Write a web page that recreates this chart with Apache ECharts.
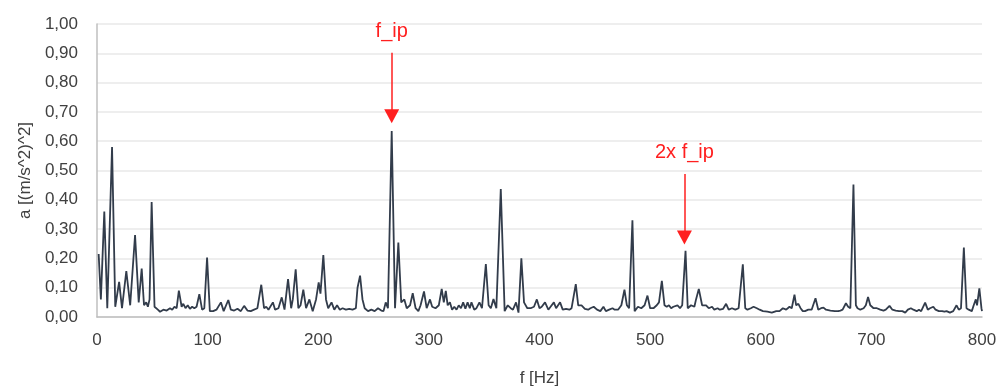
<!DOCTYPE html>
<html>
<head>
<meta charset="utf-8">
<script src="https://cdn.jsdelivr.net/npm/echarts@6/dist/echarts.min.js"></script>
<style>
html,body{margin:0;padding:0;background:#fff;}
#chart{width:1000px;height:392px;}
</style>
</head>
<body>
<div id="chart"></div>
<script>
var freqs = [1.5,3.5,6.6,9.3,13.6,16.5,20,22.6,26.5,30,34.4,37.7,40.4,42.5,44.5,46,47.5,49.4,52,55,57,60,63,66,68,70,72,74,76.5,78,80,82,84,86,88,90,92.5,95,97,99.5,102,105,108,112,114.5,118.7,121,124,127,130,133,136,139,142,145,148.5,151,153,155,159,161,164,167,169.5,172.7,175.5,177,179.6,182,184,186.5,189,192,195,198,200.4,202,204.6,207,209,212,214.5,217,219.5,222,225,228,231,234,235.5,237.8,240,242,245,248,251,254,257,259,261,263,266.4,269.4,272.4,275,277.8,280,283,285.4,288,290.5,292.5,295.6,298,301,303,306,309,311.6,313.5,315.3,317,319,321,323,325,327,329,331,333,335,337,338.5,341,343,345.7,348,351.5,354,356,358.4,361,362.5,365,368.5,371.3,374,376,378.8,381,383.6,386,389,392,395,397.6,400,402,405,408,410,413,415,418.6,421,424,427,429,432.8,435,438,441,444,446,449,452,455,457.8,460,463,466,468,471,474,476.8,479,481,484,486,489,492,495,497.6,500,503,506,508,510.6,513,515,517,519,521,524.7,527,529,532,534,537,540,541.5,544,547,550.6,553,556,558,561,563,566,568.7,571,574,577,580,583.8,586,588,591,593.5,596.5,599,602,606,610,614,617,620,623,626,628,630.5,632,634,636,638,640,643,646,649.5,652,654.5,656.7,659,663,667,670,672,674,677,679,681,683.8,686,687.5,690,693,695,697,699,702,705,708,711,713,716.4,719,722,725,728,730.6,733,735.7,738,741,743,745,748.6,751,753,756,758,761,764,766,768,771,774,777,779,781,783.6,786,788,790.8,792.5,794.4,795.5,797.6,799.5,800];
var amps = [0.215,0.06,0.36,0.03,0.58,0.035,0.12,0.03,0.157,0.04,0.28,0.05,0.165,0.04,0.05,0.035,0.06,0.392,0.035,0.025,0.018,0.025,0.022,0.03,0.025,0.035,0.03,0.09,0.035,0.045,0.03,0.04,0.028,0.035,0.03,0.035,0.078,0.025,0.03,0.203,0.02,0.02,0.025,0.05,0.02,0.058,0.025,0.022,0.028,0.02,0.038,0.022,0.02,0.025,0.03,0.11,0.03,0.035,0.025,0.05,0.025,0.03,0.067,0.025,0.129,0.03,0.06,0.163,0.03,0.04,0.093,0.03,0.06,0.02,0.06,0.118,0.08,0.211,0.06,0.03,0.05,0.025,0.04,0.025,0.03,0.025,0.028,0.025,0.03,0.1,0.141,0.06,0.03,0.02,0.025,0.02,0.03,0.022,0.02,0.05,0.03,0.635,0.03,0.254,0.05,0.06,0.03,0.04,0.081,0.03,0.02,0.04,0.087,0.03,0.06,0.035,0.03,0.04,0.096,0.05,0.089,0.04,0.05,0.025,0.035,0.025,0.04,0.03,0.05,0.028,0.05,0.03,0.05,0.025,0.03,0.05,0.03,0.181,0.04,0.03,0.061,0.03,0.03,0.437,0.02,0.04,0.03,0.025,0.05,0.015,0.2,0.05,0.03,0.03,0.035,0.06,0.03,0.035,0.05,0.025,0.035,0.05,0.03,0.05,0.025,0.028,0.025,0.03,0.112,0.04,0.04,0.028,0.025,0.03,0.035,0.025,0.02,0.035,0.02,0.025,0.03,0.025,0.025,0.04,0.093,0.04,0.03,0.33,0.02,0.035,0.03,0.04,0.073,0.03,0.03,0.04,0.05,0.123,0.04,0.035,0.04,0.03,0.035,0.04,0.03,0.04,0.226,0.03,0.04,0.035,0.06,0.096,0.04,0.04,0.03,0.035,0.025,0.03,0.025,0.028,0.045,0.025,0.03,0.025,0.03,0.18,0.03,0.025,0.03,0.035,0.03,0.025,0.02,0.018,0.015,0.02,0.02,0.03,0.025,0.035,0.03,0.076,0.04,0.045,0.03,0.02,0.02,0.025,0.025,0.064,0.025,0.03,0.032,0.025,0.022,0.02,0.02,0.022,0.025,0.047,0.035,0.03,0.452,0.04,0.03,0.025,0.03,0.04,0.068,0.04,0.03,0.03,0.025,0.022,0.025,0.038,0.025,0.022,0.02,0.02,0.015,0.025,0.03,0.025,0.02,0.025,0.02,0.049,0.025,0.03,0.035,0.025,0.02,0.02,0.018,0.02,0.015,0.02,0.04,0.025,0.03,0.237,0.03,0.025,0.02,0.04,0.06,0.04,0.098,0.03,0.02];

var xTicks = [0,100,200,300,400,500,600,700,800];
var yTicks = [0,0.1,0.2,0.3,0.4,0.5,0.6,0.7,0.8,0.9,1.0];

// annotations: frequency, label, label height, arrow start, arrow end
var annoLabels = ['f_ip', '2x f_ip'];
var annoFreqs = [266.4, 531];
var annoTextY = [0.976, 0.563];
var annoArrowFrom = [0.902, 0.488];
var annoArrowTo = [0.685, 0.271];

var FONT = 'Liberation Sans, Arial, sans-serif';
var chart = echarts.init(document.getElementById('chart'), null, {renderer:'canvas'});

var seriesData = freqs.map(function(f,i){ return [f, amps[i]]; });

var markLineData = annoFreqs.map(function(f,i){
  return [{coord:[f, annoArrowFrom[i]]},{coord:[f, annoArrowTo[i]]}];
});
var markPointData = annoFreqs.map(function(f,i){
  return {coord:[f, annoTextY[i]], value: annoLabels[i]};
});

chart.setOption({
  animation:false,
  backgroundColor:'#ffffff',
  grid:{left:97, right:18, top:24, bottom:73, containLabel:false},
  xAxis:{
    type:'value', min:xTicks[0], max:xTicks[xTicks.length-1], interval:100,
    name:'f [Hz]', nameLocation:'middle', nameGap:53,
    nameTextStyle:{fontFamily:FONT, fontSize:17, color:'#404040'},
    axisLine:{show:true, lineStyle:{color:'#bfbfbf', width:1.5}},
    axisTick:{show:false},
    splitLine:{show:false},
    axisLabel:{fontFamily:FONT, fontSize:17, color:'#404040', margin:15}
  },
  yAxis:{
    type:'value', min:yTicks[0], max:yTicks[yTicks.length-1], interval:0.1,
    name:'a [(m/s^2)^2]', nameLocation:'middle', nameGap:62, nameRotate:90,
    nameTextStyle:{fontFamily:FONT, fontSize:17, color:'#404040'},
    axisLine:{show:true, lineStyle:{color:'#bfbfbf', width:1.5}},
    axisTick:{show:false},
    splitLine:{show:true, lineStyle:{color:'#e8e8e8', width:1.5}},
    axisLabel:{fontFamily:FONT, fontSize:17, color:'#404040', margin:19,
      formatter:function(v){ return v.toFixed(2).replace('.', ','); }}
  },
  series:[{
    type:'line',
    data:seriesData,
    showSymbol:false,
    symbol:'none',
    lineStyle:{color:'#323c4b', width:1.8},
    z:3,
    markLine:{
      silent:true,
      symbol:['none','triangle'],
      symbolSize:[15,14],
      label:{show:false},
      lineStyle:{color:'#ff1f1f', width:1.5, type:'solid'},
      emphasis:{disabled:true},
      data:markLineData
    },
    markPoint:{
      silent:true,
      symbol:'circle', symbolSize:0,
      label:{show:true, position:'inside', formatter:function(p){return p.value;},
        fontFamily:FONT, fontSize:20, color:'#ff1f1f'},
      data:markPointData
    }
  }]
});
</script>
</body>
</html>
